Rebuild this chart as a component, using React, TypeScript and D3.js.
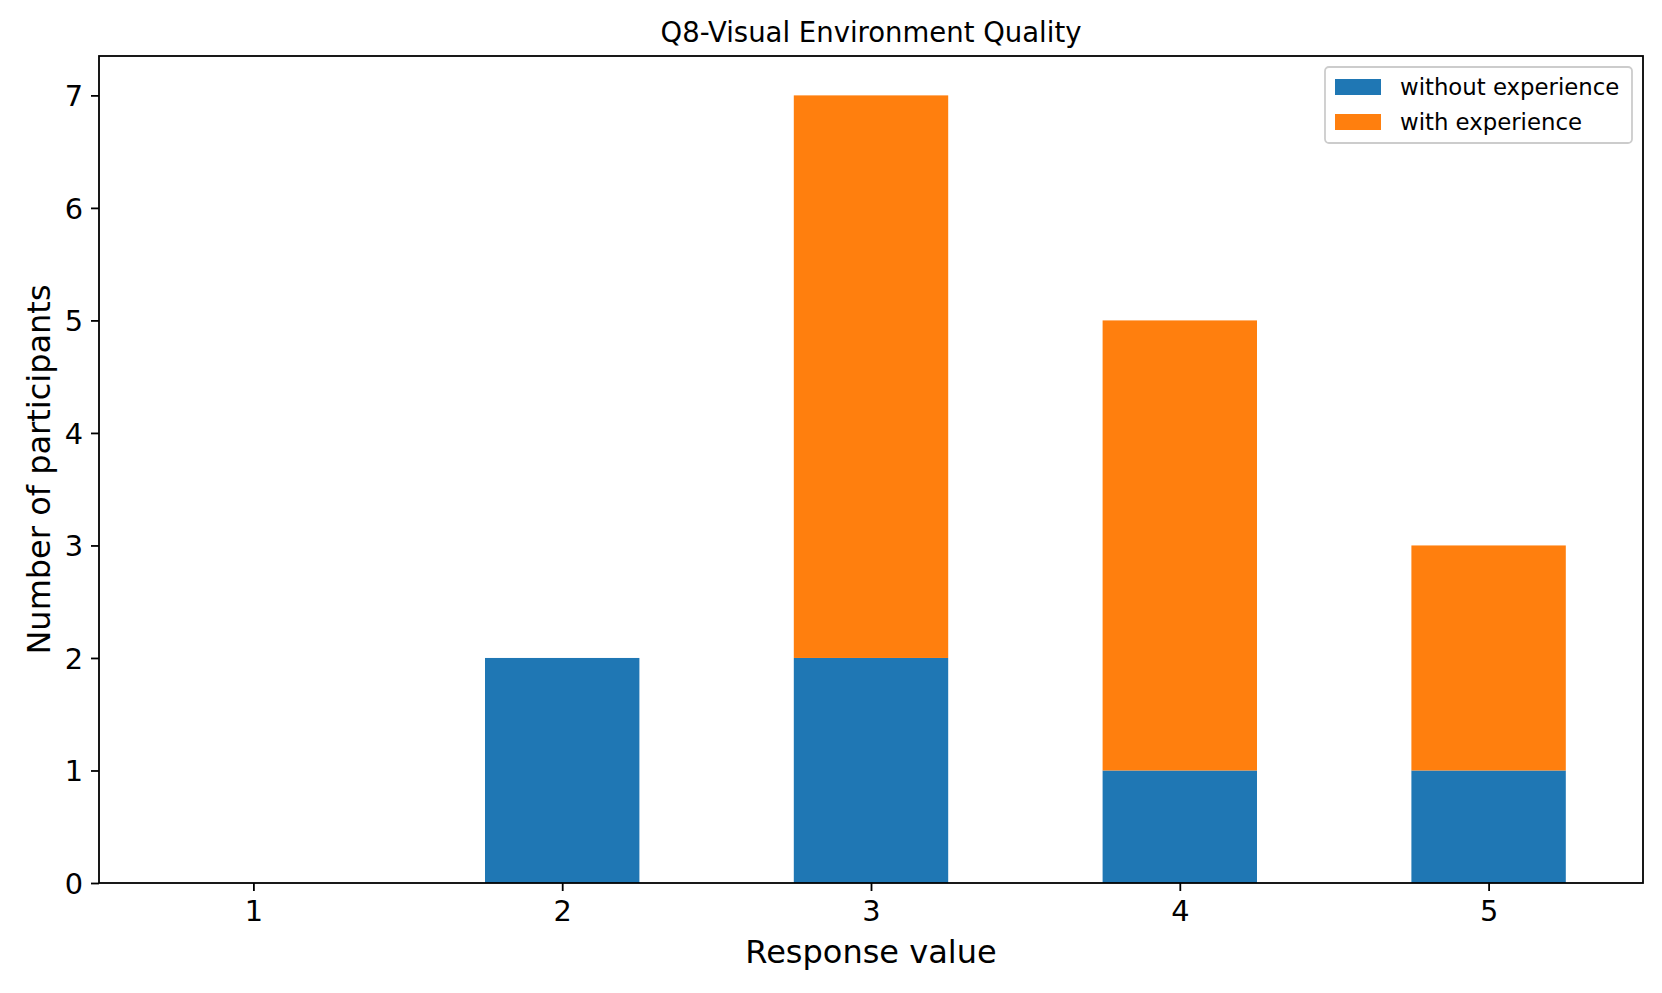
import * as React from 'react';
import * as d3 from 'd3';

const categories = ['1', '2', '3', '4', '5'];
const withoutExperience = [0, 2, 2, 1, 1];
const withExperience = [0, 0, 5, 4, 2];
const seriesNames = ['without experience', 'with experience'];
const seriesColors = ['#1f77b4', '#ff7f0e'];
const yTicks = [0, 1, 2, 3, 4, 5, 6, 7];

const FONT = '"DejaVu Sans", sans-serif';

export default function App() {
  const svgRef = React.useRef<SVGSVGElement | null>(null);
  const width = 1662;
  const height = 993;
  const margin = { top: 56, right: 19, bottom: 110, left: 99 };
  const innerW = width - margin.left - margin.right;
  const innerH = height - margin.top - margin.bottom;

  React.useEffect(() => {
    if (!svgRef.current) return;
    const svg = d3.select(svgRef.current);
    svg.selectAll('*').remove();

    // positions 0..n-1 like pandas, xlim [-0.5, n-0.5]
    const x = d3
      .scaleLinear()
      .domain([-0.5, categories.length - 0.5])
      .range([0, innerW]);
    const yMax = 7 * 1.05;
    const y = d3.scaleLinear().domain([0, yMax]).range([innerH, 0]);
    const barW = x(0.5) - x(0);

    const stacked = categories.map((c, i) => ({
      cat: c,
      i,
      segs: [
        { y0: 0, y1: withoutExperience[i], color: seriesColors[0] },
        {
          y0: withoutExperience[i],
          y1: withoutExperience[i] + withExperience[i],
          color: seriesColors[1],
        },
      ],
    }));

    const g = svg
      .append('g')
      .attr('transform', `translate(${margin.left},${margin.top})`);

    stacked.forEach((d) => {
      d.segs.forEach((s) => {
        if (s.y1 - s.y0 <= 0) return;
        g.append('rect')
          .attr('x', x(d.i) - barW / 2)
          .attr('width', barW)
          .attr('y', y(s.y1))
          .attr('height', y(s.y0) - y(s.y1))
          .attr('fill', s.color);
      });
    });

    // y axis
    const yAxis = d3
      .axisLeft(y)
      .tickValues(yTicks)
      .tickFormat(d3.format('d'))
      .tickSize(8)
      .tickPadding(8);
    const yg = g.append('g').call(yAxis);
    yg.select('.domain').remove();
    yg.selectAll('line').attr('stroke', '#000').attr('stroke-width', 1.8);
    yg.selectAll('text')
      .attr('font-family', FONT)
      .attr('font-size', 28.8)
      .attr('fill', '#000')
      .attr('dy', '0.36em');

    // x axis
    const xAxis = d3
      .axisBottom(x)
      .tickValues(categories.map((_, i) => i))
      .tickFormat((d) => categories[d as number])
      .tickSize(8)
      .tickPadding(8);
    const xg = g
      .append('g')
      .attr('transform', `translate(0,${innerH})`)
      .call(xAxis);
    xg.select('.domain').remove();
    xg.selectAll('line').attr('stroke', '#000').attr('stroke-width', 1.8);
    xg.selectAll('text')
      .attr('font-family', FONT)
      .attr('font-size', 28.8)
      .attr('fill', '#000')
      .attr('dy', '0.76em');

    // frame
    g.append('rect')
      .attr('x', 0)
      .attr('y', 0)
      .attr('width', innerW)
      .attr('height', innerH)
      .attr('fill', 'none')
      .attr('stroke', '#000')
      .attr('stroke-width', 1.8);

    // title
    svg
      .append('text')
      .attr('x', margin.left + innerW / 2)
      .attr('y', 42)
      .attr('text-anchor', 'middle')
      .attr('font-family', FONT)
      .attr('font-size', 27.5)
      .text('Q8-Visual Environment Quality');

    // axis labels
    svg
      .append('text')
      .attr('x', margin.left + innerW / 2)
      .attr('y', 963)
      .attr('text-anchor', 'middle')
      .attr('font-family', FONT)
      .attr('font-size', 32)
      .text('Response value');

    svg
      .append('text')
      .attr('transform', `translate(50,${margin.top + innerH / 2}) rotate(-90)`)
      .attr('text-anchor', 'middle')
      .attr('font-family', FONT)
      .attr('font-size', 32)
      .text('Number of participants');

    // legend
    const lg = svg.append('g').attr('transform', 'translate(1325,67)');
    lg.append('rect')
      .attr('width', 307)
      .attr('height', 76)
      .attr('rx', 4)
      .attr('fill', '#fff')
      .attr('fill-opacity', 0.8)
      .attr('stroke', '#cccccc')
      .attr('stroke-width', 1.8);
    seriesNames.forEach((name, i) => {
      lg.append('rect')
        .attr('x', 10)
        .attr('y', 12 + i * 35)
        .attr('width', 46)
        .attr('height', 16)
        .attr('fill', seriesColors[i]);
      lg.append('text')
        .attr('x', 75)
        .attr('y', 28 + i * 35)
        .attr('font-family', FONT)
        .attr('font-size', 22.8)
        .attr('fill', '#000')
        .text(name);
    });
  }, []);

  return (
    <svg
      ref={svgRef}
      width={width}
      height={height}
      style={{ position: 'absolute', left: 0, top: 0, background: '#fff' }}
    />
  );
}
